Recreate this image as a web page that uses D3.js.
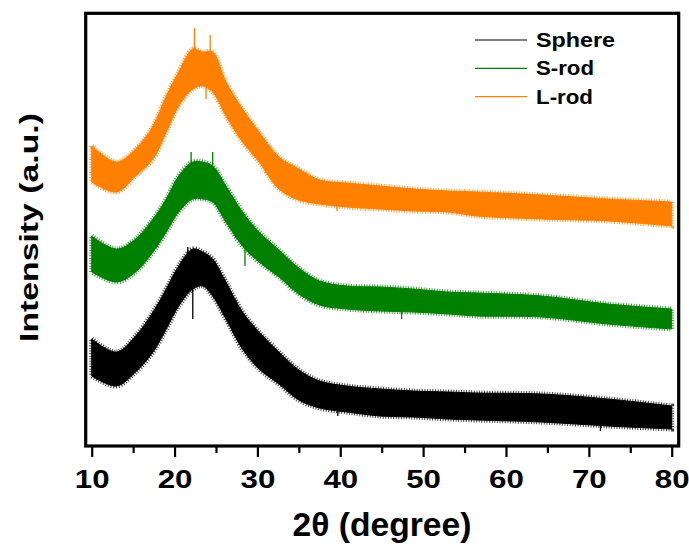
<!DOCTYPE html>
<html>
<head>
<meta charset="utf-8">
<script src="https://cdn.jsdelivr.net/npm/d3@7/dist/d3.min.js"></script>
<style>
  html, body { margin: 0; padding: 0; background: #fff; }
  svg { display: block; }
  text { font-family: "Liberation Sans", Arial, sans-serif; font-weight: bold; fill: #000; }
</style>
</head>
<body>
<svg id="chart" width="689" height="546"></svg>
<script>
// ---- Data (intensity in arbitrary units) ----
const twoTheta = [10, 13, 15.3, 17.4, 19, 20.5, 22.2, 23.4, 24.6, 26.2, 28.2, 30.2, 32.6, 35, 37.5, 40.8, 44.8, 48.8, 53, 56.5, 64.3, 72.3, 80];

// upper / lower edges of each noisy trace
const sphereHigh = [107, 94, 110, 134, 157, 180, 197, 194, 187, 164, 134, 114, 94, 76, 65, 60, 57, 55, 54, 53, 52, 47, 40];
const sphereLow  = [70, 60, 74, 94, 117, 140, 157, 160, 150, 127, 97, 77, 62, 46, 38, 34, 30, 29, 27, 26, 24, 20, 17];
const srodHigh   = [210, 197, 207, 227, 247, 270, 284, 284, 280, 260, 234, 214, 196, 178, 165, 160, 159, 157, 154, 153, 150, 142, 137];
const srodLow    = [174, 164, 174, 194, 214, 234, 247, 247, 244, 224, 200, 184, 169, 152, 141, 137, 135, 134, 132, 130, 129, 122, 117];
const lrodHigh   = [300, 284, 297, 320, 350, 374, 397, 394, 394, 364, 337, 314, 289, 277, 266, 263, 260, 257, 255, 254, 251, 247, 244];
const lrodLow    = [264, 254, 270, 287, 314, 340, 357, 360, 354, 330, 304, 284, 257, 246, 242, 239, 237, 235, 234, 230, 227, 225, 220];

// most prominent isolated spikes visible in the picture: [2θ, intensity]
const sphereSpikes = [[21.6, 199], [22.2, 127], [39.7, 30], [71.4, 15]];
const srodSpikes   = [[22, 294], [24.6, 294], [28.5, 180], [47.4, 127]];
const lrodSpikes   = [[22.4, 418], [24.3, 411], [23.8, 347], [39.6, 235]];

const seriesNames = ["Sphere", "S-rod", "L-rod"];
const seriesColors = ["#000000", "#008000", "#ff8000"];
const majorTicks = [10, 20, 30, 40, 50, 60, 70, 80];
const minorTicks = [15, 25, 35, 45, 55, 65, 75];

// ---- Build ----
const svg = d3.select("#chart");
const frame = { left: 85.7, right: 678.7, top: 13.3, bottom: 446 };

const x = d3.scaleLinear().domain([10, 80]).range([91.7, 671.7]);
const y = d3.scaleLinear().domain([0, 433]).range([446, 13]);

const series = [
  { name: seriesNames[0], color: seriesColors[0], hi: sphereHigh, lo: sphereLow, spikes: sphereSpikes },
  { name: seriesNames[1], color: seriesColors[1], hi: srodHigh, lo: srodLow, spikes: srodSpikes },
  { name: seriesNames[2], color: seriesColors[2], hi: lrodHigh, lo: lrodLow, spikes: lrodSpikes }
];

const area = d3.area()
  .x(d => x(d.t))
  .y0(d => y(d.lo))
  .y1(d => y(d.hi))
  .curve(d3.curveCatmullRom.alpha(0.5));

const plot = svg.append("g");
series.forEach(s => {
  const pts = twoTheta.map((t, i) => ({ t, hi: s.hi[i], lo: s.lo[i] }));
  // fuzzy fringe to suggest the dense noise
  plot.append("path")
    .datum(pts)
    .attr("d", area)
    .attr("fill", "none")
    .attr("stroke", s.color)
    .attr("stroke-width", 5)
    .attr("stroke-dasharray", "1 1.6")
    .attr("stroke-opacity", 0.75);
  plot.append("path")
    .datum(pts)
    .attr("d", area)
    .attr("fill", s.color)
    .attr("stroke", s.color)
    .attr("stroke-width", 1);

  const mid = d3.scaleLinear().domain(twoTheta).range(twoTheta.map((t, i) => (s.hi[i] + s.lo[i]) / 2));
  plot.append("g").selectAll("line")
    .data(s.spikes)
    .join("line")
    .attr("x1", d => x(d[0])).attr("x2", d => x(d[0]))
    .attr("y1", d => y(mid(d[0]))).attr("y2", d => y(d[1]))
    .attr("stroke", s.color)
    .attr("stroke-width", 1.3);
});

// ---- Axes ----
const axisG = svg.append("g").attr("transform", `translate(0,${frame.bottom})`);
axisG.call(d3.axisBottom(x).tickValues(majorTicks).tickSize(11).tickSizeOuter(0).tickFormat(d3.format("d")));
axisG.select(".domain").remove();
axisG.selectAll(".tick line").attr("stroke", "#000").attr("stroke-width", 2.2);
axisG.selectAll(".tick text")
  .attr("y", 42).attr("dy", 0)
  .attr("transform", "scale(1.25,1)")
  .style("font-size", "25px")
  .style("font-family", "'Liberation Sans', Arial, sans-serif")
  .style("font-weight", "bold");

const minorG = svg.append("g").attr("transform", `translate(0,${frame.bottom})`);
minorG.call(d3.axisBottom(x).tickValues(minorTicks).tickSize(7).tickSizeOuter(0).tickFormat(""));
minorG.select(".domain").remove();
minorG.selectAll(".tick line").attr("stroke", "#000").attr("stroke-width", 2.2);

// frame
svg.append("rect")
  .attr("x", frame.left).attr("y", frame.top)
  .attr("width", frame.right - frame.left).attr("height", frame.bottom - frame.top)
  .attr("fill", "none").attr("stroke", "#000").attr("stroke-width", 3.2);

// axis titles
svg.append("text")
  .attr("x", 382).attr("y", 536)
  .attr("text-anchor", "middle")
  .attr("textLength", 179).attr("lengthAdjust", "spacingAndGlyphs")
  .style("font-size", "33px")
  .text("2θ (degree)");

svg.append("text")
  .attr("transform", "translate(38,227.5) rotate(-90)")
  .attr("text-anchor", "middle")
  .attr("textLength", 229).attr("lengthAdjust", "spacingAndGlyphs")
  .style("font-size", "26px")
  .text("Intensity (a.u.)");

// ---- Legend ----
const legendLineY = [40, 68.3, 96.7];
const legendWidths = [79, 58, 57];
const legend = svg.append("g");
series.forEach((s, i) => {
  legend.append("line")
    .attr("x1", 475).attr("x2", 527)
    .attr("y1", legendLineY[i]).attr("y2", legendLineY[i])
    .attr("stroke", s.color).attr("stroke-width", 1.2);
  legend.append("text")
    .attr("x", 536).attr("y", legendLineY[i] + 6.8)
    .attr("textLength", legendWidths[i]).attr("lengthAdjust", "spacingAndGlyphs")
    .style("font-size", "20px")
    .text(s.name);
});
</script>
</body>
</html>
